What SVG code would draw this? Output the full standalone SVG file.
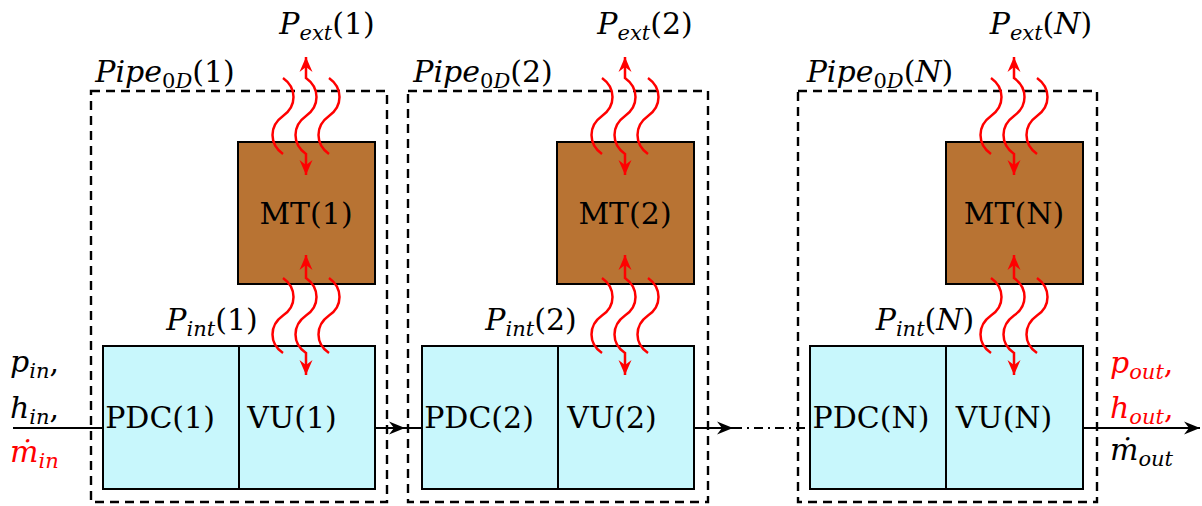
<svg xmlns="http://www.w3.org/2000/svg" width="1202" height="506" viewBox="0 0 1202 506">
<style>
.bg{fill:#ffffff}
.box{fill:none;stroke:#000;stroke-width:2.4;stroke-dasharray:9 6}
.mt{fill:#b87333;stroke:#000;stroke-width:2}
.cy{fill:#c8f7fc;stroke:#000;stroke-width:2}
.ln{fill:none;stroke:#000;stroke-width:2}
.dd{fill:none;stroke:#000;stroke-width:2;stroke-dasharray:9 5 2 5}
.w{fill:none;stroke:#ff0000;stroke-width:2.5}
text{font-family:'DejaVu Serif','Liberation Serif',serif;font-size:30px;fill:#000}
.i{font-style:italic}
.s{font-size:21px}
.r{fill:#ff0000}
</style>
<defs>
<marker id="ab" markerUnits="userSpaceOnUse" markerWidth="20" markerHeight="16" viewBox="-18 -8 20 16" refX="0" refY="0" orient="auto"><path d="M0,0 L-16,-6.5 L-11,0 L-16,6.5 Z" fill="#000"/></marker>
<marker id="ar" markerUnits="userSpaceOnUse" markerWidth="20" markerHeight="16" viewBox="-18 -8 20 16" refX="0" refY="0" orient="auto-start-reverse"><path d="M0,0 L-15,-6.5 L-10,0 L-15,6.5 Z" fill="#ff0000"/></marker>
<g id="waves">
<path class="w" d="M-23,78 c14,10 14,28 0,38 c-14,10 -14,28 0,38"/>
<path class="w" d="M23,78 c14,10 14,28 0,38 c-14,10 -14,28 0,38"/>
<path class="w" d="M0,57 V78 c14,10 14,28 0,38 c-14,10 -14,28 0,38 V175" marker-start="url(#ar)" marker-end="url(#ar)"/>
<path class="w" d="M-23,278 c14,10 14,28 0,37.5 c-14,10 -14,28 0,37.5"/>
<path class="w" d="M23,278 c14,10 14,28 0,37.5 c-14,10 -14,28 0,37.5"/>
<path class="w" d="M0,255 V278 c14,10 14,28 0,37.5 c-14,10 -14,28 0,37.5 V375" marker-start="url(#ar)" marker-end="url(#ar)"/>
</g>
</defs>
<rect class="bg" x="0" y="0" width="1202" height="506"/>

<g id="pipe1">
<rect class="box" x="91" y="91" width="296" height="411"/>
<rect id="MT1" class="mt" x="238" y="142" width="137" height="142"/>
<rect id="PDC1" class="cy" x="103" y="346" width="136" height="143"/>
<rect id="VU1" class="cy" x="239" y="346" width="136" height="143"/>
<text x="306" y="224" text-anchor="middle">MT(1)</text>
<text x="160" y="428" text-anchor="middle">PDC(1)</text>
<text x="292" y="428" text-anchor="middle">VU(1)</text>
<text x="327" y="34" text-anchor="middle"><tspan class="i">P</tspan><tspan class="i s" dy="6">ext</tspan><tspan dy="-6">(1)</tspan></text>
<text x="165" y="82" text-anchor="middle"><tspan class="i">Pipe</tspan><tspan class="s" dy="6">0</tspan><tspan class="i s">D</tspan><tspan dy="-6">(1)</tspan></text>
<text x="212" y="330" text-anchor="middle"><tspan class="i">P</tspan><tspan class="i s" dy="6">int</tspan><tspan dy="-6">(1)</tspan></text>
<use href="#waves" x="306" y="0"/>
</g>

<g id="pipe2">
<rect class="box" x="408" y="91" width="300" height="411"/>
<rect id="MT2" class="mt" x="557" y="142" width="137" height="142"/>
<rect id="PDC2" class="cy" x="422" y="346" width="136" height="143"/>
<rect id="VU2" class="cy" x="558" y="346" width="136" height="143"/>
<text x="625" y="224" text-anchor="middle">MT(2)</text>
<text x="479" y="428" text-anchor="middle">PDC(2)</text>
<text x="612" y="428" text-anchor="middle">VU(2)</text>
<text x="645" y="34" text-anchor="middle"><tspan class="i">P</tspan><tspan class="i s" dy="6">ext</tspan><tspan dy="-6">(2)</tspan></text>
<text x="483" y="82" text-anchor="middle"><tspan class="i">Pipe</tspan><tspan class="s" dy="6">0</tspan><tspan class="i s">D</tspan><tspan dy="-6">(2)</tspan></text>
<text x="531" y="330" text-anchor="middle"><tspan class="i">P</tspan><tspan class="i s" dy="6">int</tspan><tspan dy="-6">(2)</tspan></text>
<use href="#waves" x="625" y="0"/>
</g>

<g id="pipeN">
<rect class="box" x="798" y="91" width="299" height="411"/>
<rect id="MTN" class="mt" x="946" y="142" width="137" height="142"/>
<rect id="PDCN" class="cy" x="810" y="346" width="136" height="143"/>
<rect id="VUN" class="cy" x="946" y="346" width="137" height="143"/>
<text x="1014" y="224" text-anchor="middle">MT(N)</text>
<text x="871" y="428" text-anchor="middle">PDC(N)</text>
<text x="1004" y="428" text-anchor="middle">VU(N)</text>
<text x="1041" y="34" text-anchor="middle"><tspan class="i">P</tspan><tspan class="i s" dy="6">ext</tspan><tspan dy="-6">(</tspan><tspan class="i">N</tspan><tspan>)</tspan></text>
<text x="880" y="82" text-anchor="middle"><tspan class="i">Pipe</tspan><tspan class="s" dy="6">0</tspan><tspan class="i s">D</tspan><tspan dy="-6">(</tspan><tspan class="i">N</tspan><tspan>)</tspan></text>
<text x="925" y="330" text-anchor="middle"><tspan class="i">P</tspan><tspan class="i s" dy="6">int</tspan><tspan dy="-6">(</tspan><tspan class="i">N</tspan><tspan>)</tspan></text>
<use href="#waves" x="1014" y="0"/>
</g>

<g id="connectors">
<path class="ln" d="M13,428 H103"/>
<path class="ln" d="M375,428 H405" marker-end="url(#ab)"/>
<path class="ln" d="M405,428 H422"/>
<path class="ln" d="M694,428 H733" marker-end="url(#ab)"/>
<path class="dd" d="M733,428 H810"/>
<path class="ln" d="M1083,428 H1200" marker-end="url(#ab)"/>
</g>

<g id="inputs">
<text x="10" y="372"><tspan class="i">p</tspan><tspan class="i s" dy="6">in</tspan><tspan dy="-6">,</tspan></text>
<text x="10" y="418"><tspan class="i">h</tspan><tspan class="i s" dy="6">in</tspan><tspan dy="-6">,</tspan></text>
<text class="r" x="10" y="462"><tspan class="i">ṁ</tspan><tspan class="i s" dy="6">in</tspan></text>
</g>
<g id="outputs">
<text class="r" x="1110" y="373"><tspan class="i">p</tspan><tspan class="i s" dy="6">out</tspan><tspan dy="-6">,</tspan></text>
<text class="r" x="1110" y="418"><tspan class="i">h</tspan><tspan class="i s" dy="6">out</tspan><tspan dy="-6">,</tspan></text>
<text x="1110" y="460"><tspan class="i">ṁ</tspan><tspan class="i s" dy="6">out</tspan></text>
</g>
</svg>
